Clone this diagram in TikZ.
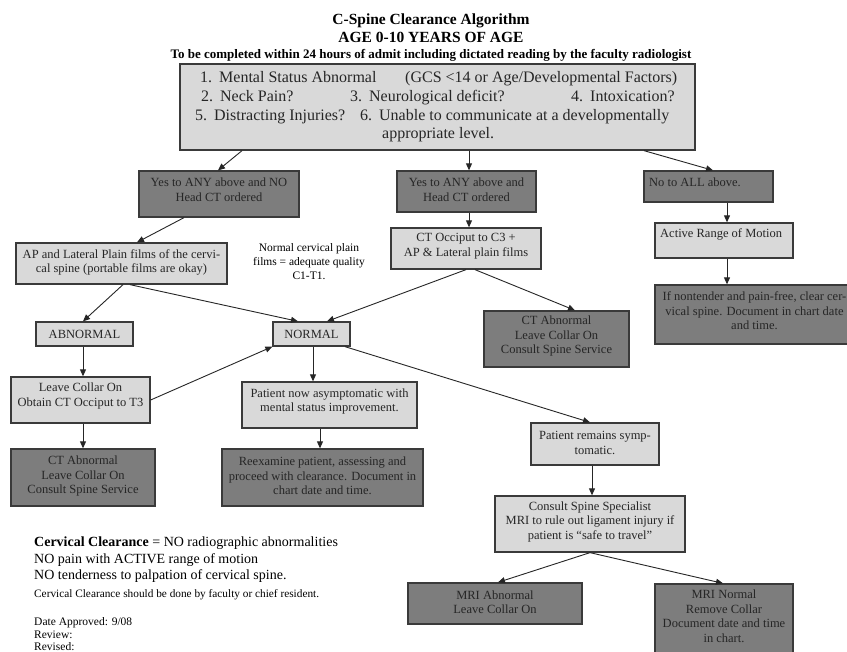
\documentclass[tikz,border=0pt]{standalone}
\usepackage{fontspec}
\setmainfont{Liberation Serif}
\usetikzlibrary{arrows.meta}
\definecolor{darkfill}{HTML}{7D7D7D}
\definecolor{lightfill}{HTML}{D9D9D9}
\definecolor{edgecol}{HTML}{3A3A3A}
\definecolor{ink}{HTML}{262626}
\tikzset{
  boxbase/.style={draw=edgecol, line width=1.3pt, inner sep=0pt, rectangle},
  lightbox/.style={boxbase, fill=lightfill},
  darkbox/.style={boxbase, fill=darkfill},
  boxtext/.style={inner sep=0pt, align=center, text=ink, font=\fontsize{12.5}{14.5}\selectfont},
  toptext/.style={inner sep=0pt, anchor=base west, text=ink, font=\fontsize{16}{19}\selectfont},
  titletext/.style={inner sep=0pt, anchor=base, text=black, font=\bfseries\fontsize{15.5}{18}\selectfont},
  foottext/.style={inner sep=0pt, anchor=base west, text=black},
  conn/.style={draw=ink, line width=0.9pt, -{Triangle[length=7pt,width=6pt]}},
}
\newcommand{\flowbox}[6]{%
  \node[#2, minimum width={(#5)-(#3)}, minimum height={(#6)-(#4)}] (#1) at ({((#3)+(#5))/2},{((#4)+(#6))/2}) {};}
\begin{document}
\begin{tikzpicture}[x=1pt,y=-1pt]
\useasboundingbox (0,0) rectangle (847,652);
\fill[white] (0,0) rectangle (847,652);
\clip (0,0) rectangle (847,652);

% titles
\node[titletext] (t1) at (431,25) {C-Spine Clearance Algorithm};
\node[titletext] (t2) at (431,43) {AGE 0-10 YEARS OF AGE};
\node[titletext, font=\bfseries\fontsize{13}{15}\selectfont] (t3) at (431,59) {To be completed within 24 hours of admit including dictated reading by the faculty radiologist};

% top box
\flowbox{top}{lightbox}{180}{64}{695}{150}
\node[toptext] (q1) at (200,83) {1.\hspace{7pt}Mental Status Abnormal};
\node[toptext] (q1b) at (405,83) {(GCS <14 or Age/Developmental Factors)};
\node[toptext] (q2) at (201,102) {2.\hspace{7pt}Neck Pain?};
\node[toptext] (q3) at (350,102) {3.\hspace{7pt}Neurological deficit?};
\node[toptext] (q4) at (571,102) {4.\hspace{7pt}Intoxication?};
\node[toptext] (q5) at (195,120.5) {5.\hspace{7pt}Distracting Injuries?};
\node[toptext] (q6) at (360,120.5) {6.\hspace{7pt}Unable to communicate at a developmentally};
\node[toptext] (q6b) at (382,138.5) {appropriate level.};

% boxes
\flowbox{yn}{darkbox}{139}{171}{299}{217}
\node[boxtext] (yn-t) at (219,189.5) {Yes to ANY above and NO\\Head CT ordered};
\flowbox{y2}{darkbox}{397}{171}{536}{212}
\node[boxtext] (y2-t) at (466.5,189.5) {Yes to ANY above and\\Head CT ordered};
\flowbox{noall}{darkbox}{644}{171}{773}{202}
\node[boxtext, anchor=west] (noall-t) at (649,182) {No to ALL above.};

\flowbox{ap}{lightbox}{16}{243}{227}{284}
\node[boxtext] (ap-t) at (121.5,262.5) {AP and Lateral Plain films of the cervi-\\cal spine (portable films are okay)};
\node[boxtext, text=black, font=\fontsize{11.5}{14}\selectfont] (note) at (309,262) {Normal cervical plain\\films = adequate quality\\C1-T1.};
\flowbox{ctocc}{lightbox}{391}{228}{541}{269}
\node[boxtext] (ctocc-t) at (466,246) {CT Occiput to C3 +\\AP \& Lateral plain films};
\flowbox{arom}{lightbox}{655}{223}{793}{258}
\node[boxtext, anchor=west] (arom-t) at (660,234) {Active Range of Motion};
\flowbox{nontender}{darkbox}{655}{285}{852}{344}
\node[boxtext] (nontender-t) at (754.5,311) {If nontender and pain-free, clear cer-\\vical spine. Document in chart date\\and time.};

\flowbox{ctab2}{darkbox}{484}{311}{629}{367}
\node[boxtext] (ctab2-t) at (556.5,336) {CT Abnormal\\Leave Collar On\\Consult Spine Service};
\flowbox{abn}{lightbox}{36}{322}{133}{346}
\node[boxtext] (abn-t) at (84.5,334) {ABNORMAL};
\flowbox{norm}{lightbox}{273}{322}{350}{346}
\node[boxtext] (norm-t) at (311.5,334) {NORMAL};

\flowbox{leave}{lightbox}{11}{377}{150}{423}
\node[boxtext] (leave-t) at (80.5,396) {Leave Collar On\\Obtain CT Occiput to T3};
\flowbox{patnow}{lightbox}{242}{382}{417}{428}
\node[boxtext] (patnow-t) at (329.5,401.5) {Patient now asymptomatic with\\mental status improvement.};
\flowbox{ctab1}{darkbox}{11}{449}{155}{506}
\node[boxtext] (ctab1-t) at (83,476) {CT Abnormal\\Leave Collar On\\Consult Spine Service};
\flowbox{reexam}{darkbox}{222}{449}{423}{506}
\node[boxtext] (reexam-t) at (322.5,476) {Reexamine patient, assessing and\\proceed with clearance. Document in\\chart date and time.};
\flowbox{patrem}{lightbox}{531}{423}{659}{465}
\node[boxtext] (patrem-t) at (595,443) {Patient remains symp-\\tomatic.};
\flowbox{consult}{lightbox}{495}{496}{685}{552}
\node[boxtext] (consult-t) at (590,521.5) {Consult Spine Specialist\\MRI to rule out ligament injury if\\patient is “safe to travel”};
\flowbox{mriab}{darkbox}{408}{583}{582}{624}
\node[boxtext] (mriab-t) at (495,602) {MRI Abnormal\\Leave Collar On};
\flowbox{mrinorm}{darkbox}{655}{584}{793}{665}
\node[boxtext] (mrinorm-t) at (724,616.5) {MRI Normal\\Remove Collar\\Document date and time\\in chart.};

% footer
\node[foottext, font=\fontsize{14}{16}\selectfont] (f1) at (34,547) {\textbf{Cervical Clearance} = NO radiographic abnormalities};
\node[foottext, font=\fontsize{14}{16}\selectfont] (f2) at (34,563) {NO pain with ACTIVE range of motion};
\node[foottext, font=\fontsize{14}{16}\selectfont] (f3) at (34,579) {NO tenderness to palpation of cervical spine.};
\node[foottext, font=\fontsize{11.3}{13}\selectfont] (f4) at (34,597.5) {Cervical Clearance should be done by faculty or chief resident.};
\node[foottext, font=\fontsize{11.5}{13}\selectfont] (f5) at (34,625) {Date Approved: 9/08};
\node[foottext, font=\fontsize{11.5}{13}\selectfont] (f6) at (34,638) {Review:};
\node[foottext, font=\fontsize{11.5}{13}\selectfont] (f7) at (34,650.5) {Revised:};

% connectors
\draw[conn] ([xshift=-195.5pt]top.south) -- ([xshift=-1pt]yn.north);
\draw[conn] ([xshift=31.5pt]top.south) -- ([xshift=2.5pt]y2.north);
\draw[conn] ([xshift=206.5pt]top.south) -- ([xshift=4.5pt]noall.north);
\draw[conn] ([xshift=-35pt]yn.south) -- ([xshift=15.5pt]ap.north);
\draw[conn] ([xshift=2.5pt]y2.south) -- ([xshift=3pt]ctocc.north);
\draw[conn] ([xshift=18.5pt]noall.south) -- ([xshift=3pt]arom.north);
\draw[conn] ([xshift=3pt]arom.south) -- ([xshift=-26.5pt]nontender.north);
\draw[conn] ([xshift=1.5pt]ap.south) -- ([xshift=-1.5pt]abn.north);
\draw[conn] ([xshift=8.5pt]ap.south) -- ([xshift=-13.5pt]norm.north);
\draw[conn] (ctocc.south) -- ([xshift=15.5pt]norm.north);
\draw[conn] ([xshift=9pt]ctocc.south) -- ([xshift=18.5pt]ctab2.north);
\draw[conn] ([xshift=-1.5pt]abn.south) -- ([xshift=2.5pt]leave.north);
\draw[conn] (leave.east) -- (norm.south west);
\draw[conn] ([xshift=1.5pt]norm.south) -- ([xshift=-16.5pt]patnow.north);
\draw[conn] ([xshift=33.5pt]norm.south) -- ([xshift=-5pt]patrem.north);
\draw[conn] ([xshift=2.5pt]leave.south) -- (ctab1.north);
\draw[conn] ([xshift=-9.5pt]patnow.south) -- ([xshift=-2.5pt]reexam.north);
\draw[conn] ([xshift=-3pt]patrem.south) -- ([xshift=2pt]consult.north);
\draw[conn] (consult.south) -- ([xshift=3pt]mriab.north);
\draw[conn] (consult.south) -- ([xshift=-1pt]mrinorm.north);
\end{tikzpicture}
\end{document}
